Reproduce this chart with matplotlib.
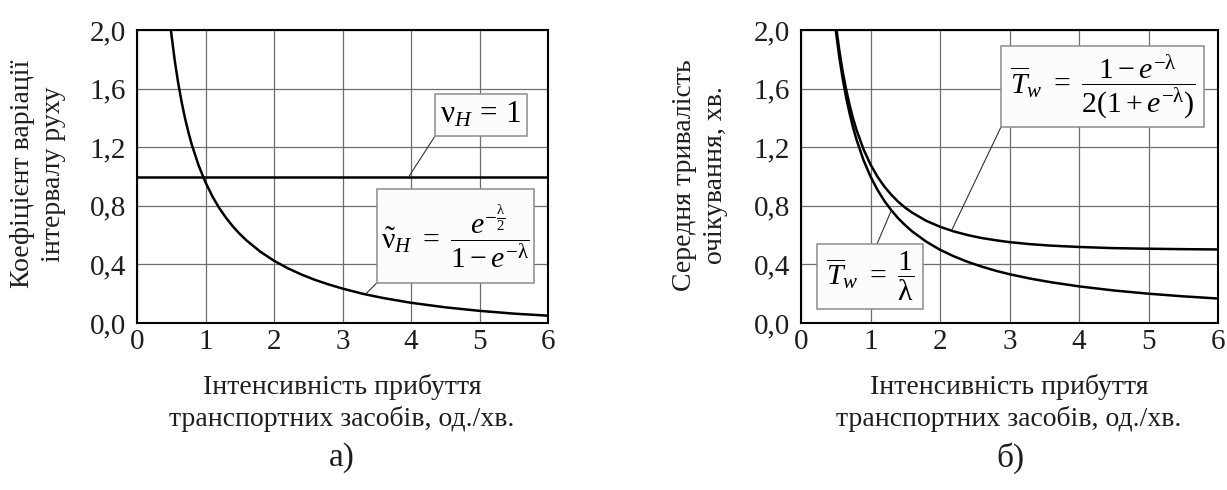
import matplotlib
matplotlib.use("Agg")
import matplotlib.pyplot as plt
from matplotlib.patches import Rectangle

plt.rcParams["font.family"] = ["Liberation Serif", "DejaVu Serif"]
plt.rcParams["mathtext.fontset"] = "custom"
plt.rcParams["mathtext.rm"] = "Liberation Serif"
plt.rcParams["mathtext.it"] = "Liberation Serif:italic"
plt.rcParams["mathtext.bf"] = "Liberation Serif:bold"

# Arrival intensity, vehicles per minute
lam = [0.49, 0.5, 0.55, 0.6, 0.65, 0.7, 0.75, 0.8, 0.9, 1.0, 1.1, 1.2, 1.3, 1.4,
       1.5, 1.6, 1.8, 2.0, 2.2, 2.4, 2.6, 2.8, 3.0, 3.3, 3.6, 4.0, 4.5, 5.0, 5.5, 6.0]

# (a) coefficient of variation of the headway
nu_tilde = [2.020, 1.979, 1.795, 1.642, 1.512, 1.400, 1.303, 1.217, 1.075, 0.960,
            0.865, 0.785, 0.718, 0.659, 0.608, 0.563, 0.487, 0.425, 0.374, 0.331,
            0.294, 0.263, 0.235, 0.199, 0.170, 0.138, 0.107, 0.083, 0.064, 0.050]
lam_const = [0.0, 4.0, 6.0]
nu_const = [1.0, 1.0, 1.0]

# (b) mean waiting time, min
tw_upper = [2.081, 2.042, 1.864, 1.716, 1.593, 1.486, 1.395, 1.316, 1.185, 1.082,
            0.999, 0.931, 0.875, 0.827, 0.787, 0.753, 0.698, 0.657, 0.625, 0.600,
            0.580, 0.565, 0.552, 0.538, 0.528, 0.519, 0.511, 0.507, 0.504, 0.502]
tw_inv = [2.041, 2.000, 1.818, 1.667, 1.538, 1.429, 1.333, 1.250, 1.111, 1.000,
          0.909, 0.833, 0.769, 0.714, 0.667, 0.625, 0.556, 0.500, 0.455, 0.417,
          0.385, 0.357, 0.333, 0.303, 0.278, 0.250, 0.222, 0.200, 0.182, 0.167]

x_ticks = [0, 1, 2, 3, 4, 5, 6]
y_ticks = [0.0, 0.4, 0.8, 1.2, 1.6, 2.0]
y_ticklabels = ["0,0", "0,4", "0,8", "1,2", "1,6", "2,0"]

x_label = "Інтенсивність прибуття\nтранспортних засобів, од./хв."
ylabel_a = "Коефіцієнт варіації\nінтервалу руху"
ylabel_b = "Середня тривалість\nочікування, хв."

W, H = 1227, 490
fig = plt.figure(figsize=(W / 100, H / 100), dpi=100)
fig.patch.set_facecolor("white")

FS = 20
TICK_FS = 21
FORMULA_FS = 21.5
GRID = "#6e6e6e"
BOX_EDGE = "#8c8c8c"
TEXT = "#1e1e1e"


def frame(ax):
    ax.set_xlim(0, 6)
    ax.set_ylim(0, 2)
    ax.set_xticks(x_ticks)
    ax.set_yticks(y_ticks)
    ax.set_yticklabels(y_ticklabels)
    ax.tick_params(length=0, labelsize=TICK_FS, labelcolor=TEXT)
    ax.tick_params(axis="y", pad=8)
    ax.tick_params(axis="x", pad=4)
    ax.grid(True, color=GRID, linewidth=0.9)
    ax.set_axisbelow(True)
    for s in ax.spines.values():
        s.set_linewidth(1.5)
        s.set_color("black")


def box(ax, x0, y0, x1, y1, text, fs):
    ax.add_patch(Rectangle((x0, y0), x1 - x0, y1 - y0, facecolor="#fcfcfc",
                           edgecolor=BOX_EDGE, linewidth=1.1, zorder=5))
    ax.text((x0 + x1) / 2, (y0 + y1) / 2, text, ha="center", va="center",
            fontsize=fs, zorder=6, color="black")


def leader(ax, start, end):
    ax.plot([start[0], end[0]], [start[1], end[1]], color="#333333",
            linewidth=0.8, zorder=4, solid_capstyle="butt")


# ---- panel (a)
ax1 = fig.add_axes([137 / W, (H - 323) / H, 411 / W, 293 / H])
frame(ax1)
ax1.plot(lam_const, nu_const, color="black", linewidth=1.8, zorder=3)
ax1.plot(lam, nu_tilde, color="black", linewidth=1.8, zorder=3)

leader(ax1, (4.35, 1.276), (lam_const[1] - 0.03, nu_const[1]))
box(ax1, 4.35, 1.276, 5.69, 1.563, r"$\mathrm{\nu}_H\,=\,1$", 22.5)

i_curve = lam.index(3.3)
leader(ax1, (3.50, 0.273), (lam[i_curve] + 0.04, nu_tilde[i_curve]))
box(ax1, 3.50, 0.273, 5.80, 0.915,
    r"$\tilde{\mathrm{\nu}}_H\ =\ \dfrac{e^{-\frac{\mathrm{\lambda}}{2}}}{1 - e^{-\mathrm{\lambda}}}$",
    FORMULA_FS)

fig.text(38 / W, 1 - 174 / H, ylabel_a, rotation=90, ha="center", va="center",
         fontsize=FS, linespacing=1.3, color=TEXT)
fig.text(342 / W, 1 - 403 / H, x_label, ha="center", va="center",
         fontsize=FS, linespacing=1.3, color=TEXT)
fig.text(342 / W, 1 - 458 / H, "а)", ha="center", va="center", fontsize=24, color=TEXT)

# ---- panel (b)
ax2 = fig.add_axes([801 / W, (H - 323) / H, 417 / W, 293 / H])
frame(ax2)
ax2.plot(lam, tw_upper, color="black", linewidth=1.8, zorder=3)
ax2.plot(lam, tw_inv, color="black", linewidth=1.8, zorder=3)

i_up = lam.index(2.2)
leader(ax2, (2.878, 1.338), (lam[i_up] - 0.03, tw_upper[i_up] + 0.01))
box(ax2, 2.878, 1.338, 5.80, 1.891,
    r"$\overline{T}_w\ =\ \dfrac{1 - e^{-\mathrm{\lambda}}}{2(1 + e^{-\mathrm{\lambda}})}$",
    FORMULA_FS)

i_inv = lam.index(1.3)
leader(ax2, (1.094, 0.539), (lam[i_inv], tw_inv[i_inv]))
box(ax2, 0.23, 0.096, 1.755, 0.539,
    r"$\overline{T}_w\ =\ \dfrac{1}{\mathrm{\lambda}}$", FORMULA_FS)

fig.text(700 / W, 1 - 175 / H, ylabel_b, rotation=90, ha="center", va="center",
         fontsize=FS, linespacing=1.3, color=TEXT)
fig.text(1009 / W, 1 - 403 / H, x_label, ha="center", va="center",
         fontsize=FS, linespacing=1.3, color=TEXT)
fig.text(1010 / W, 1 - 458 / H, "б)", ha="center", va="center", fontsize=24, color=TEXT)

fig.savefig("out.png", dpi=100, facecolor="white")
